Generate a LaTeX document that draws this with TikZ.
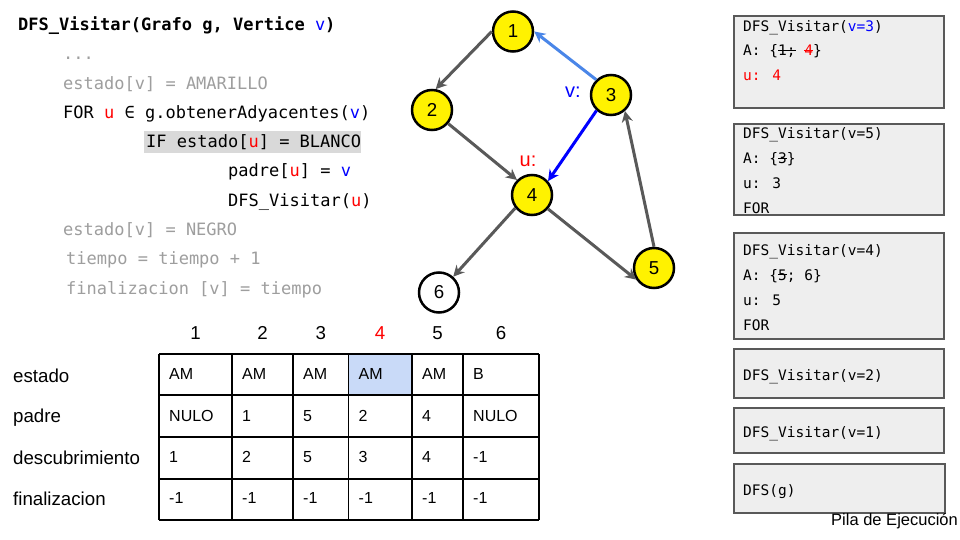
\documentclass[tikz,border=0pt]{standalone}
\usepackage{fontspec}
\setmainfont{Liberation Sans}
\newfontfamily\codefont{DejaVu Sans Mono}
\usetikzlibrary{arrows.meta}

\definecolor{edgegray}{HTML}{595959}
\definecolor{lightblue}{HTML}{4A86E8}
\definecolor{pureblue}{HTML}{0000FF}
\definecolor{purered}{HTML}{FF0000}
\definecolor{codegray}{HTML}{9E9E9E}
\definecolor{hlgray}{HTML}{D9D9D9}
\definecolor{stackfill}{HTML}{EEEEEE}
\definecolor{stackline}{HTML}{595959}
\definecolor{cellblue}{HTML}{C9DAF8}

\newcommand{\rd}[1]{\textcolor{purered}{#1}}
\newcommand{\bl}[1]{\textcolor{pureblue}{#1}}
% struck-through text, rule in the current colour
\newcommand{\strk}[1]{\setbox0\hbox{#1}\rlap{\raisebox{0.32em}{\rule{\wd0}{0.07em}}}\box0\relax}

\tikzset{
  codeline/.style={anchor=base west, inner sep=0pt, font=\codefont\fontsize{17}{20}\selectfont},
  codetitle/.style={codeline, font=\codefont\bfseries\fontsize{17}{20}\selectfont},
  dimline/.style={codeline, text=codegray},
  stacktxt/.style={anchor=base west, inner sep=0pt, font=\codefont\fontsize{14.5}{17}\selectfont},
  stackbox/.style={draw=stackline, fill=stackfill, line width=1.3pt},
  vertex/.style={circle, draw=black, line width=2.5pt, fill=yellow, minimum size=40pt,
    inner sep=0pt, font=\fontsize{18.7}{20}\selectfont},
  blank/.style={vertex, fill=white},
  tip/.style={-{Stealth[length=11pt,width=11pt,inset=3.5pt]}},
  edge/.style={draw=edgegray, line width=3pt, tip},
  bigtxt/.style={inner sep=0pt, font=\fontsize{18.7}{20}\selectfont},
  celltxt/.style={anchor=base west, inner sep=0pt, font=\fontsize{16}{18}\selectfont},
  grid/.style={draw=black, line width=1.2pt},
}

\begin{document}
\begin{tikzpicture}[x=1pt, y=-1pt]
\useasboundingbox (0,0) rectangle (960,540);
\fill[white] (0,0) rectangle (960,540);

% ---------- pseudocode ----------
\fill[hlgray] (144,131) rectangle (361,153);
\node[codetitle] (c0) at (18,31) {DFS\_Visitar(Grafo g, Vertice \bl{\mdseries v})};
\node[dimline] (c1) at (63,60) {...};
\node[dimline] (c2) at (63,90) {estado[v] = AMARILLO};
\node[codeline] (c3) at (63,119) {FOR \rd{u} ∈ g.obtenerAdyacentes(\bl{v})};
\node[codeline] (c4) at (146,148) {IF estado[\rd{u}] = BLANCO};
\node[codeline] (c5) at (228,177) {padre[\rd{u}] = \bl{v}};
\node[codeline] (c6) at (228,206) {DFS\_Visitar(\rd{u})};
\node[dimline] (c7) at (63,235) {estado[v] = NEGRO};
\node[dimline] (c8) at (66,264) {tiempo = tiempo + 1};
\node[dimline] (c9) at (66,294) {finalizacion [v] = tiempo};

% ---------- graph ----------
\node[vertex] (n1) at (513,31.5) {1};
\node[vertex] (n2) at (432,110) {2};
\node[vertex] (n3) at (611,95) {3};
\node[vertex] (n4) at (532,195) {4};
\node[vertex] (n5) at (654,268) {5};
\node[blank]  (n6) at (439,292.5) {6};

\draw[edge] (n1.west) -- (n2.80);
\draw[edge] (n2.-40) -- (n4.135);
\draw[edge] (n4.218) -- (n6.48);
\draw[edge] (n4.-41) -- (n5.213);
\draw[edge] (n5.north) -- (n3.-49);
\draw[draw=lightblue, line width=3pt, tip] (n3.134) -- (n1.east);
\draw[draw=pureblue, line width=3pt, tip] (n3.227) -- (n4.41);

\node[bigtxt, text=pureblue, font=\fontsize{20}{22}\selectfont] (vlab) at (573,92) {v:};
\node[bigtxt, text=purered, font=\fontsize{20}{22}\selectfont] (ulab) at (528,161) {u:};

% ---------- table ----------
\fill[cellblue] (348.5,354) rectangle (412,395);
\foreach \x in {159,232,293,348.5,412,463,539}
  \draw[grid] (\x,354) -- (\x,520);
\foreach \y in {354,395,437,479,520}
  \draw[grid] (159,\y) -- (539,\y);

\foreach \lbl/\x in {1/195.5, 2/262.5, 3/320.75, 5/437.5, 6/501}
  \node[bigtxt, anchor=base] (h\lbl) at (\x,339.5) {\lbl};
\node[bigtxt, anchor=base, text=purered] (h4) at (380,339.5) {4};

\node[bigtxt, anchor=base west] (restado) at (13,382) {estado};
\node[bigtxt, anchor=base west] (rpadre) at (13,422) {padre};
\node[bigtxt, anchor=base west] (rdesc) at (13,464) {descubrimiento};
\node[bigtxt, anchor=base west] (rfin) at (13,505) {finalizacion};

\foreach \i/\x in {1/169,2/242,3/303,4/358.5,5/422,6/473}{
  \node[celltxt] (fin\i) at (\x,503.5) {-1};
}
\foreach \i/\x/\a/\b/\c in {1/169/AM/NULO/1, 2/242/AM/1/2, 3/303/AM/5/5,
                            4/358.5/AM/2/3, 5/422/AM/4/4, 6/473/B/NULO/-1}{
  \node[celltxt] (est\i) at (\x,379.5) {\a};
  \node[celltxt] (pad\i) at (\x,421.5) {\b};
  \node[celltxt] (des\i) at (\x,462.5) {\c};
}

% ---------- call stack ----------
\draw[stackbox] (734,16) rectangle (944,108);
\node[stacktxt] (s1a) at (743,31.5) {DFS\_Visitar(\textcolor{pureblue}{v=3})};
\node[stacktxt] (s1b) at (743,56) {A: \{\strk{1;} \textcolor{purered}{\strk{4}}\}};
\node[stacktxt, text=purered] (s1c) at (743,80.5) {u: 4};

\draw[stackbox] (734,124) rectangle (944,215);
\node[stacktxt] (s2a) at (743,139) {DFS\_Visitar(v=5)};
\node[stacktxt] (s2b) at (743,163.5) {A: \{\strk{3}\}};
\node[stacktxt] (s2c) at (743,188) {u: 3};
\node[stacktxt] (s2d) at (743,213) {FOR};

\draw[stackbox] (734,233) rectangle (944,339);
\node[stacktxt] (s3a) at (743,255.5) {DFS\_Visitar(v=4)};
\node[stacktxt] (s3b) at (743,280) {A: \{\strk{5}; 6\}};
\node[stacktxt] (s3c) at (743,305) {u: 5};
\node[stacktxt] (s3d) at (743,330) {FOR};

\draw[stackbox] (734,349) rectangle (944,398);
\node[stacktxt] (s4) at (743,380) {DFS\_Visitar(v=2)};

\draw[stackbox] (734,408) rectangle (944,453);
\node[stacktxt] (s5) at (743,437) {DFS\_Visitar(v=1)};

\draw[stackbox] (734,464) rectangle (945,513);
\node[stacktxt] (s6) at (743,495) {DFS(g)};

\node[anchor=base east, inner sep=0pt, font=\fontsize{16.5}{18}\selectfont] (pila) at (958,525) {Pila de Ejecución};
\end{tikzpicture}
\end{document}
